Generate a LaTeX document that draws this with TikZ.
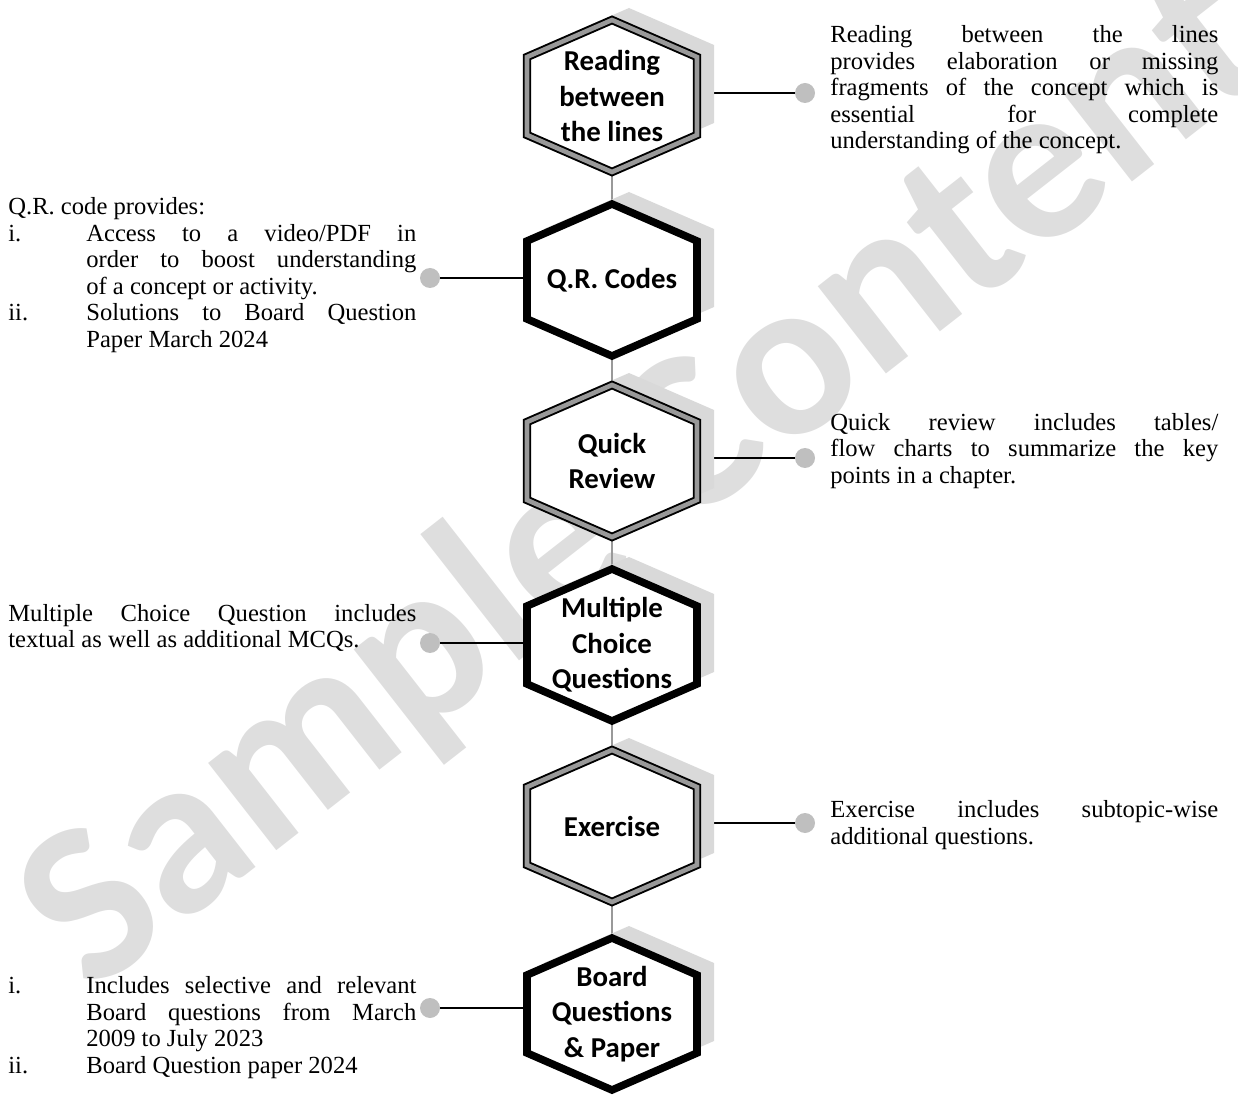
\documentclass[tikz,border=0pt]{standalone}
\usepackage{fontspec}
\setmainfont{Liberation Serif}
\newfontfamily\hexfont{Carlito}
\usepackage{tikz}
\usetikzlibrary{positioning, calc}
\pgfdeclarelayer{background}
\pgfsetlayers{background,main}
\newcommand{\notefont}{\fontsize{14}{15.1}\selectfont\setlength{\parindent}{0pt}\hyphenpenalty=10000 \tolerance=10000 }
\newcommand{\itm}[1]{\par\noindent\hangindent=1.56cm\hangafter=1\makebox[1.56cm][l]{#1}\ignorespaces}
\tikzset{
    hexagon/.pic = {
    \fill[black!15] (0.34,0.24) ++(0,1.52) -- ++(1.70,-0.74) -- ++(0,-1.56) -- ++(-1.70,-0.74) -- ++(-1.70,0.74) -- ++(0,1.56) -- cycle;
    \path[#1] (0,1.52) -- ++(1.70,-0.74) -- ++(0,-1.56) -- ++(-1.70,-0.74) -- ++(-1.70,0.74) -- ++(0,1.56) -- cycle;
    },
    thickhex/.style={draw, line width=4.3pt, fill=white},
    dblhex/.style={draw, line width=1.1pt, double=black!40, double distance=2.6pt, fill=white},
    hexa/.style={minimum width=3.56cm, minimum height=3.2cm, inner sep=0pt, align=center, font=\hexfont\bfseries\fontsize{16.4}{20.2}\selectfont},
    dotnode/.style={circle, fill=black!25, minimum size=0.4cm, inner sep=0pt},
    link/.style={line width=0.8pt},
    vlink/.style={draw=black!40, line width=0.9pt},
    note/.style={text width=7.76cm, align=justify, inner sep=0pt, anchor=west, font=\notefont},
    lnote/.style={note, text width=8.16cm},
    wmark/.style={anchor=base west, inner sep=0pt, rotate=38, text=black!13, font=\hexfont\bfseries\fontsize{130}{130}\selectfont},
}

\begin{document}
\begin{tikzpicture}
    \useasboundingbox (0,0) rectangle (24.76,-22.12);
    \begin{pgfonlayer}{background}
    \node[wmark] (wm) at (1.82,-19.92) {Sample Content};
    \end{pgfonlayer}

    % the six hexagons
    \path (12.24,-1.92) pic {hexagon=dblhex};
    \node[hexa] (rbl) at (12.24,-1.92) {Reading\\between\\the lines};
    \path (12.24,-5.60) pic {hexagon=thickhex};
    \node[hexa] (qrc) at (12.24,-5.60) {Q.R. Codes};
    \path (12.24,-9.22) pic {hexagon=dblhex};
    \node[hexa] (qrv) at (12.24,-9.22) {Quick\\Review};
    \path (12.24,-12.90) pic {hexagon=thickhex};
    \node[hexa] (mcq) at (12.24,-12.90) {Multiple\\Choice\\Questions};
    \path (12.24,-16.52) pic {hexagon=dblhex};
    \node[hexa] (exc) at (12.24,-16.52) {Exercise};
    \path (12.24,-20.28) pic {hexagon=thickhex};
    \node[hexa] (bqp) at (12.24,-20.28) {Board\\Questions\\\& Paper};

    % dots
    \node[dotnode] (drbl) at (16.10,-1.86) {};
    \node[dotnode] (dqrc) at (8.60,-5.56) {};
    \node[dotnode] (dqrv) at (16.10,-9.16) {};
    \node[dotnode] (dmcq) at (8.60,-12.86) {};
    \node[dotnode] (dexc) at (16.10,-16.46) {};
    \node[dotnode] (dbqp) at (8.60,-20.16) {};

    % texts
    \node[note] (trbl) at (16.60,-1.80) {Reading between the lines\linebreak provides elaboration or missing\linebreak fragments of the concept which is\linebreak essential for complete\linebreak understanding of the concept.\par};
    \node[lnote] (tqrc) at (0.16,-5.50) {Q.R. code provides:\itm{i.}Access to a video/PDF in\linebreak order to boost understanding\linebreak of a concept or activity.\itm{ii.}Solutions to Board Question\linebreak Paper March 2024\par};
    \node[note] (tqrv) at (16.60,-9.02) {Quick review includes tables/\linebreak flow charts to summarize the key\linebreak points in a chapter.\par};
    \node[lnote] (tmcq) at (0.16,-12.56) {Multiple Choice Question includes\linebreak textual as well as additional MCQs.\par};
    \node[note] (texc) at (16.60,-16.50) {Exercise includes \mbox{subtopic-wise}\linebreak additional questions.\par};
    \node[lnote] (tbqp) at (0.16,-20.46) {\itm{i.}Includes selective and relevant\linebreak Board questions from March\linebreak 2009 to July 2023\itm{ii.}Board Question paper 2024\par};

    \begin{pgfonlayer}{background}
    \draw[vlink] (rbl) -- (qrc);
    \draw[vlink] (qrc) -- (qrv);
    \draw[vlink] (qrv) -- (mcq);
    \draw[vlink] (mcq) -- (exc);
    \draw[vlink] (exc) -- (bqp);
    \draw[link] (rbl.east |- drbl) -- (drbl);
    \draw[link] (dqrc) -- (qrc.west |- dqrc);
    \draw[link] (qrv.east |- dqrv) -- (dqrv);
    \draw[link] (dmcq) -- (mcq.west |- dmcq);
    \draw[link] (exc.east |- dexc) -- (dexc);
    \draw[link] (dbqp) -- (bqp.west |- dbqp);
    \end{pgfonlayer}
\end{tikzpicture}
\end{document}
